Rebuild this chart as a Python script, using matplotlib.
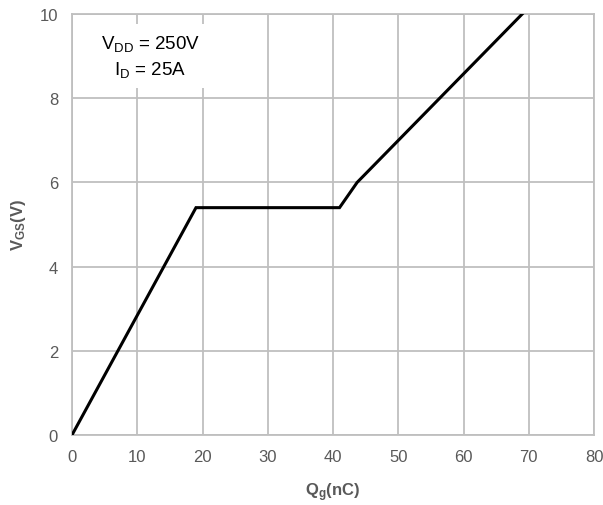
import matplotlib
matplotlib.use('Agg')
import matplotlib.pyplot as plt

plt.rcParams['font.family'] = ['Liberation Sans', 'DejaVu Sans']
plt.rcParams['mathtext.fontset'] = 'custom'
plt.rcParams['mathtext.rm'] = 'Liberation Sans'
plt.rcParams['mathtext.it'] = 'Liberation Sans'
plt.rcParams['mathtext.bf'] = 'Liberation Sans:bold'

# gate charge curve
qg = [0, 19, 41, 43.7, 69]
vgs = [0, 5.4, 5.4, 6.0, 10]

xticks = [0, 10, 20, 30, 40, 50, 60, 70, 80]
yticks = [0, 2, 4, 6, 8, 10]

GRID = '#bfbfbf'
TXT = '#595959'

fig = plt.figure(figsize=(6.03, 5.06), dpi=100)
ax = fig.add_axes([0.1194, 0.1383, 0.8657, 0.8321])

ax.plot(qg, vgs, color='black', lw=2.2, solid_joinstyle='miter', zorder=3)

ax.set_xlim(0, 80)
ax.set_ylim(0, 10)
ax.set_xticks(xticks)
ax.set_yticks(yticks)
ax.grid(True, color=GRID, lw=1.3)
ax.set_axisbelow(True)
for s in ax.spines.values():
    s.set_color(GRID)
    s.set_linewidth(1.3)
ax.tick_params(length=0, labelsize=12, labelcolor=TXT, pad=10)

ax.set_xlabel(r'Q$_\mathregular{g}$(nC)', fontsize=12, fontweight='bold', color=TXT, labelpad=12)
ax.set_ylabel(r'V$_\mathregular{GS}$(V)', fontsize=12, fontweight='bold', color=TXT, labelpad=8)

ax.text(12, 9.0, r'V$_\mathregular{DD}$ = 250V' + '\n' + r'I$_\mathregular{D}$ = 25A',
        ha='center', va='center', fontsize=13.5, linespacing=1.45,
        bbox=dict(boxstyle='square,pad=0.45', fc='white', ec='none'), zorder=4)

fig.savefig('out.png', dpi=100)
